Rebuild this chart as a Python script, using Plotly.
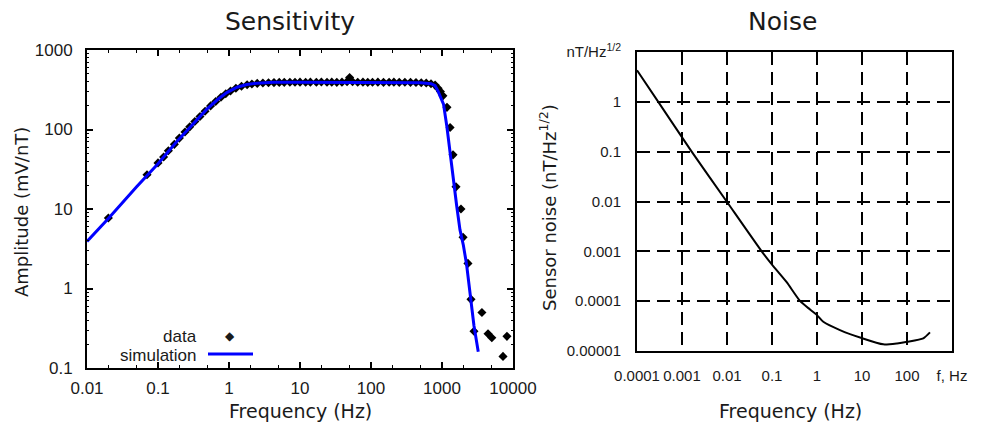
import plotly.graph_objects as go

# ---------------- Sensitivity: measured data ----------------
data_freq = [0.02, 0.07,
             0.1, 0.12, 0.14, 0.17, 0.2, 0.24, 0.28, 0.33, 0.39, 0.46, 0.55, 0.65, 0.77, 0.9,
             1.05, 1.25, 1.5, 1.8, 2.1, 2.5, 3, 3.6, 4.3, 5.1, 6, 7.2, 8.5,
             10, 12, 14, 17, 20, 24, 28, 33, 39, 46, 50, 55, 65, 77, 90,
             105, 125, 150, 180, 210, 250, 300, 360, 430, 510, 600, 700, 800, 880, 950,
             1030, 1175, 1300, 1430, 1575, 1850, 1980, 2320, 2560, 2820, 3650, 4450, 5030, 7230, 8220]
data_amp = [7.7, 27,
            38, 45, 54, 65, 78, 93, 108, 126, 146, 170, 198, 225, 255, 282,
            305, 330, 350, 366, 374, 380, 384, 387, 389, 391, 392, 393, 393,
            394, 393, 394, 393, 395, 393, 394, 392, 394, 400, 450, 398, 393, 394, 392,
            393, 394, 392, 393, 394, 392, 393, 392, 390, 388, 384, 376, 362, 330, 300,
            265, 190, 106, 48, 19, 10, 4.4, 2.07, 0.73, 0.29, 0.50, 0.27, 0.24, 0.14, 0.25]

# ---------------- Sensitivity: simulation ----------------
sim_freq = [0.01, 0.02, 0.05, 0.1, 0.183, 0.3, 0.484, 0.7, 0.93, 1.3, 1.78, 2.5, 4.2, 10,
            100, 500, 700, 800, 885, 1050, 1170, 1300, 1440, 1610, 1790, 2000, 2220, 2510,
            2820, 3240]
sim_amp = [3.9, 7.6, 19, 37, 70, 113, 179, 240, 291, 340, 368, 383, 392, 394,
           394, 388, 376, 355, 300, 209, 110, 51, 22, 11, 5.5, 3.5, 2.0, 0.78,
           0.34, 0.16]

# ---------------- Noise ----------------
noise_freq = [1e-4, 2.97e-4, 1.64e-3, 9.85e-3, 0.059, 0.1, 0.212, 0.419, 0.7, 1.0, 1.38,
              3.24, 10.2, 29.7, 60, 101.6, 230, 324]
noise_val = [4.3, 1.0, 0.1, 0.01, 1e-3, 5.4e-4, 2.4e-4, 1.01e-4, 6.8e-5, 5.25e-5, 3.85e-5,
             2.63e-5, 1.8e-5, 1.36e-5, 1.42e-5, 1.53e-5, 1.8e-5, 2.37e-5]

# tick labels
sens_x_ticks = [0.01, 0.1, 1, 10, 100, 1000, 10000]
sens_x_text = ["0.01", "0.1", "1", "10", "100", "1000", "10000"]
sens_y_ticks = [0.1, 1, 10, 100, 1000]
sens_y_text = ["0.1", "1", "10", "100", "1000"]
noise_x_ticks = [1e-4, 1e-3, 1e-2, 0.1, 1, 10, 100, 1000]
noise_x_text = ["0.0001", "0.001", "0.01", "0.1", "1", "10", "100", "f, Hz"]
noise_y_ticks = [1e-5, 1e-4, 1e-3, 1e-2, 0.1, 1, 10]
noise_y_text = ["0.00001", "0.0001", "0.001", "0.01", "0.1", "1", "nT/Hz<sup>1/2</sup>"]

W, H = 984, 425
TXT = "#1a1a1a"
TITLE_FONT = "DejaVu Sans, Verdana, sans-serif"
TICK_FONT = "Liberation Sans Narrow, Arial Narrow, Liberation Sans, Arial, sans-serif"
NOISE_FONT = "Liberation Sans, Arial, sans-serif"

# minor tick positions for the gnuplot-like axes
minor_x = [m * 10.0 ** e for e in range(-2, 4) for m in (2, 5)]
minor_y = [m * 10.0 ** e for e in range(-1, 3) for m in range(2, 10)]

fig = go.Figure()
fig.add_trace(go.Scatter(
    x=data_freq, y=data_amp, mode="markers", name="data",
    marker=dict(symbol="diamond", size=7, color="black", line=dict(width=0)),
    xaxis="x", yaxis="y", showlegend=False))
fig.add_trace(go.Scatter(
    x=sim_freq, y=sim_amp, mode="lines", name="simulation",
    line=dict(color="#0000ff", width=3),
    xaxis="x", yaxis="y", showlegend=False))
fig.add_trace(go.Scatter(
    x=noise_freq, y=noise_val, mode="lines", name="noise",
    line=dict(color="black", width=2, shape="spline", smoothing=0.6),
    xaxis="x2", yaxis="y2", showlegend=False))

def px_x(v):
    return v / W

def px_y(v):
    return 1 - v / H

axis_common = dict(type="log", showline=True, linecolor="black", linewidth=2,
                   zeroline=False, automargin=False)

fig.update_layout(
    width=W, height=H,
    margin=dict(l=0, r=0, t=0, b=0),
    paper_bgcolor="white", plot_bgcolor="white",
    showlegend=False,
    xaxis=dict(**axis_common, domain=[px_x(87), px_x(513)], anchor="y",
               range=[-2, 4], mirror="ticks", ticks="inside", ticklen=6, tickwidth=1.5,
               tickcolor="black", tickmode="array", tickvals=sens_x_ticks, ticktext=sens_x_text,
               showgrid=False, tickfont=dict(family=TICK_FONT, size=17, color=TXT),
               ticklabelstandoff=4,
               minor=dict(ticks="inside", ticklen=3, tickwidth=1, tickcolor="black",
                          tickmode="array", tickvals=minor_x, showgrid=False)),
    yaxis=dict(**axis_common, domain=[px_y(368), px_y(50)], anchor="x",
               range=[-1, 3], mirror="ticks", ticks="inside", ticklen=6, tickwidth=1.5,
               tickcolor="black", tickmode="array", tickvals=sens_y_ticks, ticktext=sens_y_text,
               showgrid=False, tickfont=dict(family=TICK_FONT, size=17, color=TXT),
               ticklabelstandoff=9,
               minor=dict(ticks="inside", ticklen=2, tickwidth=1, tickcolor="black",
                          tickmode="array", tickvals=minor_y, showgrid=False)),
    xaxis2=dict(**axis_common, domain=[px_x(637), px_x(952)], anchor="y2",
                range=[-4, 3], mirror=True, ticks="", tickmode="array",
                tickvals=noise_x_ticks, ticktext=noise_x_text,
                showgrid=True, gridcolor="black", gridwidth=2, griddash="13px,7px",
                tickfont=dict(family=NOISE_FONT, size=15, color=TXT),
                ticklabelstandoff=10),
    yaxis2=dict(**axis_common, domain=[px_y(351), px_y(52)], anchor="x2",
                range=[-5, 1], mirror=True, ticks="", tickmode="array",
                tickvals=noise_y_ticks, ticktext=noise_y_text,
                showgrid=True, gridcolor="black", gridwidth=2, griddash="13px,7px",
                tickfont=dict(family=NOISE_FONT, size=15, color=TXT),
                ticklabelstandoff=11),
)

def text_ann(text, x, y, size, family=TITLE_FONT, angle=0, xanchor="center"):
    fig.add_annotation(text=text, x=px_x(x), y=px_y(y), xref="paper", yref="paper",
                       showarrow=False, textangle=angle, xanchor=xanchor, yanchor="middle",
                       font=dict(family=family, size=size, color=TXT))

# titles
text_ann("Sensitivity", 290, 22, 25)
text_ann("Noise", 782, 22, 25)
# axis titles
text_ann("Frequency (Hz)", 300, 411, 19)
text_ann("Amplitude (mV/nT)", 22, 212, 18, angle=-90)
text_ann("Frequency (Hz)", 790, 411, 19)
text_ann("Sensor noise (nT/Hz<sup>1/2</sup>)", 548, 208, 18, angle=-90)

# legend (text left of key, gnuplot style)
text_ann("data", 199, 336, 17, family=NOISE_FONT, xanchor="right")
text_ann("simulation", 199, 355, 17, family=NOISE_FONT, xanchor="right")
text_ann("\u25c6", 230, 336, 12, family="DejaVu Sans")
fig.add_shape(type="line", xref="paper", yref="paper",
              x0=px_x(208), x1=px_x(253), y0=px_y(354), y1=px_y(354),
              line=dict(color="#0000ff", width=3))

fig.write_html("out.html", config={"displayModeBar": False},
               post_script="document.body.style.margin='0';document.body.style.overflow='hidden';")
